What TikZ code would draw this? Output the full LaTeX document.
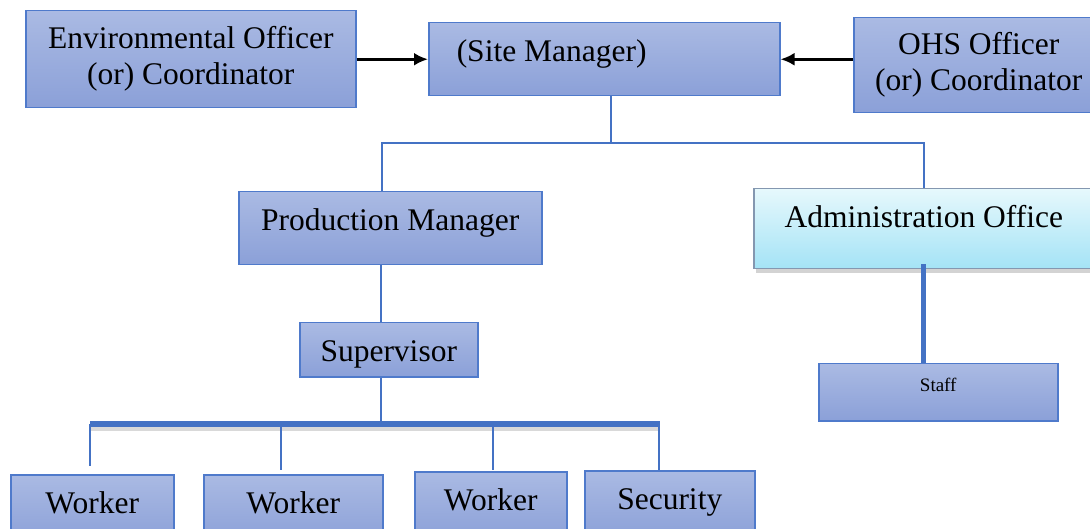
\documentclass[tikz,border=0pt]{standalone}
\usepackage{fontspec}
\setmainfont{Liberation Serif}
\usetikzlibrary{arrows.meta,shadows}
\definecolor{boxtop}{HTML}{AABAE3}
\definecolor{boxbot}{HTML}{8BA0D8}
\definecolor{boxline}{HTML}{4F7ACB}
\definecolor{admtop}{HTML}{E6F8FC}
\definecolor{admbot}{HTML}{A4E3F6}
\definecolor{admline}{HTML}{8497B0}
\definecolor{linkc}{HTML}{4472C4}

\begin{document}
\begin{tikzpicture}[x=1pt,y=-1pt,>={Latex[length=14pt,width=13pt]},
  every node/.style={font=\fontsize{31.5}{36}\selectfont},
  box/.style={draw=boxline,line width=1.5pt,top color=boxtop,bottom color=boxbot,anchor=north west,inner sep=0pt},
  onerow/.style={text height=39pt,text depth=#1},
  link/.style={draw=linkc,line width=2.5pt},
  bar/.style={draw=linkc,line width=6pt}]
  \useasboundingbox (0,0) rectangle (1090,529);
  \clip (0,0) rectangle (1090,529);
  \node (1) [box,align=center,minimum width=330pt,minimum height=97pt] at (25,10) {Environmental Officer\\(or) Coordinator};
  \node (2) [box,onerow=34pt,inner xsep=28pt,text width=295pt,align=flush left] at (428,22) {(Site Manager)};
  \node (3) [box,align=center,minimum width=250pt,minimum height=95pt] at (853,17) {OHS Officer\\(or) Coordinator};
  \node (4) [box,onerow=34pt,minimum width=303pt] at (238,191) {Production Manager};
  \node (5) [box,onerow=41pt,minimum width=340pt,draw=admline,top color=admtop,bottom color=admbot,
    drop shadow={shadow xshift=2pt,shadow yshift=-4pt,opacity=.35}] at (753,188) {Administration Office};
  \node (6) [box,onerow=15pt,minimum width=178pt] at (299,322) {Supervisor};
  \node (7) [box,font=\fontsize{19}{22}\selectfont,text height=28pt,text depth=29pt,minimum width=239pt] at (818,363) {Staff};
  \node (8) [box,onerow=30pt,minimum width=163pt] at (10,474) {Worker};
  \node (9) [box,onerow=30pt,minimum width=179pt] at (203,474) {Worker};
  \node (10) [box,onerow=30pt,minimum width=152pt] at (414,471) {Worker};
  \node (11) [box,onerow=30pt,minimum width=170pt] at (584,470) {Security};

  \draw[->,line width=2.8pt] (1.east) -- (2.west);
  \draw[->,line width=2.8pt] (3.west |- 2.west) -- (2.east);

  \coordinate (j) at (611,143);
  \draw[link] (2.south -| j) -- (j) -| ([xshift=-8.5pt]4.north);
  \draw[link] (j) -| (5.north);
  \draw[draw=linkc,line width=5pt] ([yshift=5pt]5.south) -- (5.south |- 7.north);

  \coordinate (s) at (381,424);
  \draw[link] (4.south -| s) -- (6.north -| s);
  \draw[link] (6.south -| s) -- (s);
  \coordinate (bl) at (90,424);
  \coordinate (br) at (660,424);
  \draw[bar,preaction={draw=black!15,line width=7pt,transform canvas={yshift=-3pt}}] (bl) -- (br);
  \foreach \n/\x/\g in {8/90/8,9/281/4,10/493/1,11/659/0}
    \draw[link,shorten >=\g pt] (\x,424) -- (\n.north -| \x,424);
\end{tikzpicture}
\end{document}
